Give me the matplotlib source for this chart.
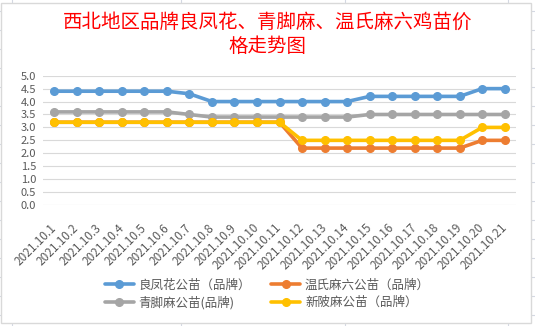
import matplotlib
matplotlib.use("Agg")
import matplotlib.pyplot as plt
from matplotlib.patches import Rectangle
from matplotlib.transforms import ScaledTranslation

plt.rcParams['font.family'] = ['Noto Sans CJK SC', 'DejaVu Sans']

dates = ["2021.10.%d" % d for d in range(1, 22)]
liangfenghua = [4.4, 4.4, 4.4, 4.4, 4.4, 4.4, 4.3, 4.0, 4.0, 4.0, 4.0,
                4.0, 4.0, 4.0, 4.2, 4.2, 4.2, 4.2, 4.2, 4.5, 4.5]
qingjiaoma = [3.6, 3.6, 3.6, 3.6, 3.6, 3.6, 3.5, 3.4, 3.4, 3.4, 3.4,
              3.4, 3.4, 3.4, 3.5, 3.5, 3.5, 3.5, 3.5, 3.5, 3.5]
wenshima = [3.2, 3.2, 3.2, 3.2, 3.2, 3.2, 3.2, 3.2, 3.2, 3.2, 3.2,
            2.2, 2.2, 2.2, 2.2, 2.2, 2.2, 2.2, 2.2, 2.5, 2.5]
xinpima = [3.2, 3.2, 3.2, 3.2, 3.2, 3.2, 3.2, 3.2, 3.2, 3.2, 3.2,
           2.5, 2.5, 2.5, 2.5, 2.5, 2.5, 2.5, 2.5, 3.0, 3.0]

series = [
    ("良凤花公苗（品牌）", liangfenghua, "#5B9BD5"),
    ("青脚麻公苗(品牌)", qingjiaoma, "#A5A5A5"),
    ("温氏麻六公苗（品牌）", wenshima, "#ED7D31"),
    ("新陂麻公苗（品牌）", xinpima, "#FFC000"),
]

W, H = 535, 326
fig = plt.figure(figsize=(W / 100, H / 100), dpi=100)

# excel sheet behind the chart
bg = fig.add_axes([0, 0, 1, 1], zorder=-10)
bg.set_xlim(0, W)
bg.set_ylim(H, 0)
bg.axis("off")
grid_c = "#d4d8e2"
for x in [12, 181, 345, 508]:
    bg.plot([x, x], [0, H], color=grid_c, lw=0.8)
for y in range(11, H, 19):
    bg.plot([0, W], [y, y], color=grid_c, lw=0.8)
bg.add_patch(Rectangle((1, 3), 530, 320, facecolor="white",
                       edgecolor="#d9d9d9", lw=1.0, zorder=5))

fig.text(0.5, 1 - 22 / H, "西北地区品牌良凤花、青脚麻、温氏麻六鸡苗价",
         color="#FF0000", fontsize=14, ha="center", va="center")
fig.text(0.5, 1 - 46 / H, "格走势图",
         color="#FF0000", fontsize=14, ha="center", va="center")

ax = fig.add_axes([43 / W, 1 - 205 / H, 473 / W, (205 - 75.7) / H])
ax.set_facecolor("none")
x = list(range(len(dates)))
for label, vals, col in series:
    ax.plot(x, vals, color=col, lw=2.6, marker="o", markersize=5.5,
            label=label, solid_capstyle="round")

ax.set_xlim(-0.5, len(dates) - 0.5)
ax.set_ylim(0, 5)
ax.set_yticks([i * 0.5 for i in range(11)])
ax.set_yticklabels(["%.1f" % (i * 0.5) for i in range(11)])
ax.set_xticks(x)
ax.set_xticklabels(dates, rotation=45, ha="right", va="center",
                   rotation_mode="anchor", fontsize=8.5)
shift = ScaledTranslation(4 / 100, 0, fig.dpi_scale_trans)
for t in ax.get_xticklabels():
    t.set_transform(t.get_transform() + shift)
ax.tick_params(axis="both", length=0, colors="#595959")
ax.tick_params(axis="y", pad=5, labelsize=8)
ax.tick_params(axis="x", pad=15)
ax.grid(axis="y", color="#d9d9d9", lw=0.8)
ax.set_axisbelow(True)
for s in ax.spines.values():
    s.set_visible(False)

leg = fig.legend(loc="center", bbox_to_anchor=(0.5, 1 - 294 / H), ncol=2,
                 frameon=False, fontsize=9, handlelength=2.3,
                 columnspacing=1.6, handletextpad=0.4, labelspacing=0.35)
for t in leg.get_texts():
    t.set_color("#595959")

fig.savefig("out.png", dpi=100)
